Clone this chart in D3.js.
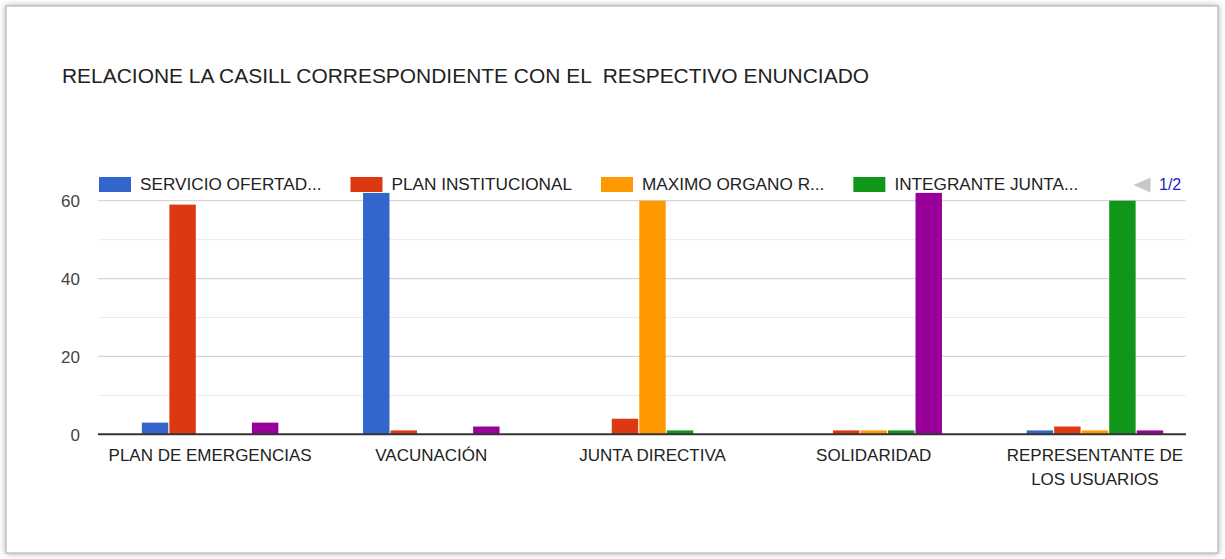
<!DOCTYPE html>
<html><head><meta charset="utf-8">
<script src="https://cdn.jsdelivr.net/npm/d3@7"></script>
<style>
body{margin:0;background:#fff}
text{font-family:Arial,"Liberation Sans",sans-serif}
</style>
</head><body>
<svg id="c" width="1225" height="559"></svg>
<script>
const title = "RELACIONE LA CASILL CORRESPONDIENTE CON EL  RESPECTIVO ENUNCIADO";
const categories = ["PLAN DE EMERGENCIAS", "VACUNACIÓN", "JUNTA DIRECTIVA", "SOLIDARIDAD", "REPRESENTANTE DE LOS USUARIOS"];
const seriesNames = ["SERVICIO OFERTAD...", "PLAN INSTITUCIONAL", "MAXIMO ORGANO R...", "INTEGRANTE JUNTA...", "SERIE 5"];
const servicioOfertado = [3, 62, 0, 0, 1];
const planInstitucional = [59, 1, 4, 1, 2];
const maximoOrgano = [0, 0, 60, 1, 1];
const integranteJunta = [0, 0, 1, 1, 60];
const serie5 = [3, 2, 0, 62, 1];
const majorTicks = [0, 20, 40, 60];
const minorTicks = [10, 30, 50];
const legendPage = "1/2";
const colors = ["#3366cc", "#dc3912", "#ff9900", "#109618", "#990099"];

const seriesValues = [servicioOfertado, planInstitucional, maximoOrgano, integranteJunta, serie5];
const svg = d3.select("#c");

// card with shadow
const defs = svg.append("defs");
const f = defs.append("filter").attr("id", "sh").attr("x", "-5%").attr("y", "-5%").attr("width", "110%").attr("height", "110%");
f.append("feDropShadow").attr("dx", 0).attr("dy", 0).attr("stdDeviation", 3).attr("flood-color", "#000").attr("flood-opacity", 0.35);
svg.append("rect").attr("x", 6).attr("y", 6).attr("width", 1212).attr("height", 547)
  .attr("fill", "#fff").attr("stroke", "#a8a8a8").attr("stroke-width", 1).attr("filter", "url(#sh)");

// title
svg.append("text").attr("x", 62).attr("y", 83).attr("font-size", 20.95).attr("fill", "#222")
  .style("white-space", "pre").text(title);

const left = 98, right = 1186;
const y = d3.scaleLinear().domain([0, 60]).range([434.3, 200.7]);
const x0 = d3.scaleBand().domain(categories).range([99.5, 1205.5]).paddingInner(0).paddingOuter(0);
const x1 = d3.scaleBand().domain(d3.range(seriesNames.length)).range([0, 136.5]).paddingInner(0.04);

// gridlines
const g = svg.append("g");
g.selectAll("line.minor").data(minorTicks).join("line")
  .attr("x1", left).attr("x2", right).attr("y1", d => y(d)).attr("y2", d => y(d))
  .attr("stroke", "#ececec").attr("stroke-width", 1);
g.selectAll("line.major").data(majorTicks.filter(d => d !== 0)).join("line")
  .attr("x1", left).attr("x2", right).attr("y1", d => y(d)).attr("y2", d => y(d))
  .attr("stroke", "#d6d6d6").attr("stroke-width", 1.2);

// y axis labels
const yAxis = d3.axisLeft(y).tickValues(majorTicks).tickSize(0).tickPadding(0).tickFormat(d3.format("d"));
const ya = svg.append("g").attr("transform", `translate(80,0)`).call(yAxis);
ya.select(".domain").remove();
ya.selectAll("text").attr("font-size", 17).attr("fill", "#444").attr("font-family", "Arial, 'Liberation Sans', sans-serif").attr("dy", "0.36em");

// bars
const rows = categories.map((c, i) => ({c, vals: seriesValues.map(s => s[i])}));
const grp = svg.append("g").selectAll("g").data(rows).join("g")
  .attr("transform", d => `translate(${x0(d.c) + x0.bandwidth() / 2 - 68.25},0)`);
grp.selectAll("rect").data(d => d.vals.map((v, k) => ({v, k}))).join("rect")
  .attr("x", d => x1(d.k)).attr("width", x1.bandwidth())
  .attr("y", d => y(d.v)).attr("height", d => y(0) - y(d.v))
  .attr("fill", d => colors[d.k]);

// baseline
svg.append("line").attr("x1", left).attr("x2", right).attr("y1", y(0)).attr("y2", y(0))
  .attr("stroke", "#333").attr("stroke-width", 2);

// x labels
const xAxis = d3.axisBottom(x0).tickSize(0).tickPadding(0);
const xa = svg.append("g").attr("transform", `translate(0,449)`).call(xAxis);
xa.select(".domain").remove();
xa.selectAll("text").attr("font-size", 17).attr("fill", "#222").attr("font-family", "Arial, 'Liberation Sans', sans-serif")
  .each(function(d) {
    const t = d3.select(this);
    const words = d.split(" ");
    t.text(null);
    let line = [];
    let ts = t.append("tspan").attr("x", 0).attr("dy", "0.71em");
    for (const w of words) {
      line.push(w);
      ts.text(line.join(" "));
      if (ts.node().getComputedTextLength() > 212 && line.length > 1) {
        line.pop(); ts.text(line.join(" "));
        line = [w];
        ts = t.append("tspan").attr("x", 0).attr("dy", "1.38em").text(w);
      }
    }
  });
xa.selectAll("text").attr("dy", null);

// legend (first page: 4 items)
let lx = 99;
const leg = svg.append("g");
for (let k = 0; k < 4; k++) {
  leg.append("rect").attr("x", lx).attr("y", 177).attr("width", 32).attr("height", 15).attr("fill", colors[k]);
  const t = leg.append("text").attr("x", lx + 41).attr("y", 190).attr("font-size", 17.2).attr("fill", "#222").text(seriesNames[k]);
  lx = lx + 41 + t.node().getComputedTextLength() + 29;
}
// pager
leg.append("path").attr("d", d3.line()([[1150.5, 177.5], [1150.5, 192.5], [1133.5, 185]]) + "Z").attr("fill", "#c8c8c8");
leg.append("text").attr("x", 1159).attr("y", 190).attr("font-size", 16).attr("fill", "#1a21c9").text(legendPage);
</script>
</body></html>
